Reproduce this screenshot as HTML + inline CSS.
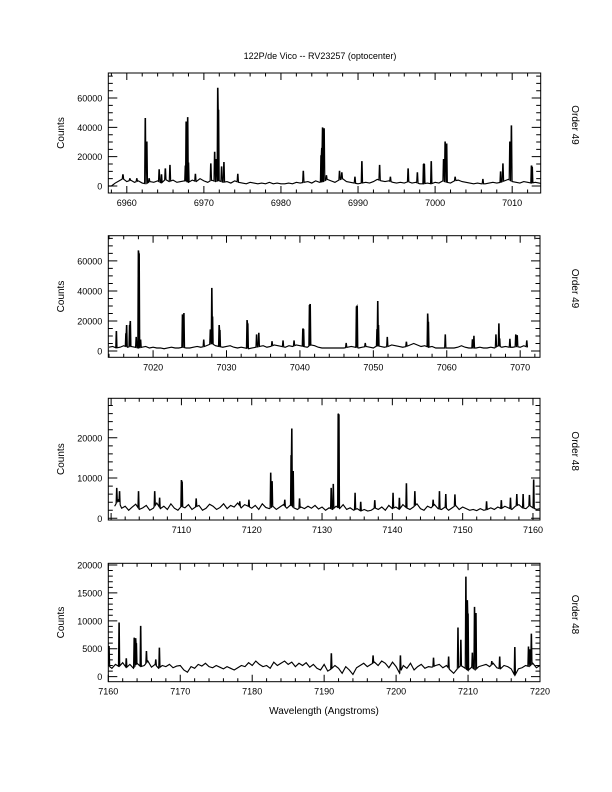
<!DOCTYPE html>
<html><head><meta charset="utf-8">
<style>
html,body{margin:0;padding:0;background:#fff;}
svg{display:block;font-family:"Liberation Sans",sans-serif;}
</style></head>
<body>
<svg id="fig" width="612" height="792" viewBox="0 0 612 792" xmlns="http://www.w3.org/2000/svg">
<text x="320" y="59" font-size="9" text-anchor="middle">122P/de Vico -- RV23257 (optocenter)</text>
<text x="324" y="714" font-size="10" text-anchor="middle">Wavelength (Angstroms)</text>
</svg>
<script>
// ---- data: peaks [wavelength, counts] and baselines (0.5 A steps) ----
const p1Peaks = [[6959.5,8000],[6960.4,5000],[6961.3,5000],[6962.4,46000],[6962.6,30000],[6962.9,5000],[6964.2,11000],[6964.5,8000],[6965.0,12000],[6965.6,14000],[6967.6,14000],[6967.7,44000],[6967.9,47000],[6968.0,16000],[6968.9,8000],[6970.9,15000],[6971.4,23000],[6971.6,18000],[6971.8,67000],[6971.9,52000],[6972.3,13000],[6972.6,16000],[6974.4,8000],[6982.9,10000],[6985.2,21000],[6985.3,26000],[6985.4,40000],[6985.6,39000],[6985.9,7000],[6987.6,10000],[6987.9,9000],[6989.6,6000],[6990.5,17000],[6992.8,14000],[6994.2,6000],[6996.5,12000],[6997.7,9000],[6998.5,15000],[6998.6,15000],[6999.5,17000],[7001.1,18000],[7001.3,30000],[7001.5,29000],[7002.6,6000],[7006.2,4500],[7008.5,10000],[7008.8,15000],[7009.7,30000],[7009.9,41000],[7012.5,14000],[7012.6,13000]];
const p1Start = 6957.5;
const p1Base = [0,0,2000,3500,5000,3000,4000,2500,3500,2000,1500,3000,2500,3500,2000,4500,3000,4000,2500,3000,3500,2500,4000,3000,5000,3500,2500,4000,3000,3500,2500,3000,2000,3500,2500,2000,1500,2500,2000,1500,2000,1500,2500,1500,2000,1500,1500,2000,1500,2500,2000,2500,3000,2000,3500,2500,3000,4500,3500,2500,4000,5000,3000,2500,2000,1500,2000,2500,2000,3000,4500,3500,3000,3500,2500,2000,2500,2000,3000,2000,2500,1500,1500,2000,1500,2500,2000,3500,2500,2000,3500,4000,3000,2500,2000,1500,2000,1500,1500,2000,2500,2000,2500,3500,4500,3000,2500,2000,3000,2500,2000,2500,2000,1500,2000,2500,2000];

const p2Peaks = [[7015.0,13300],[7016.3,11800],[7016.4,17300],[7016.8,17300],[7016.9,20000],[7017.7,9000],[7018.0,67000],[7018.1,65000],[7018.3,7300],[7024.0,24400],[7024.2,24900],[7026.9,7300],[7027.8,14000],[7028.0,42000],[7028.1,23000],[7029.0,17300],[7029.1,14000],[7032.8,20600],[7032.9,18400],[7034.1,10700],[7034.4,11800],[7036.2,6200],[7037.7,6700],[7039.2,6700],[7040.4,15000],[7040.5,14600],[7041.3,30600],[7041.4,31300],[7046.3,5000],[7047.7,29700],[7047.8,30000],[7048.9,5000],[7050.5,14600],[7050.6,33300],[7050.7,17300],[7051.9,9000],[7054.5,6200],[7057.4,25000],[7057.5,19500],[7059.8,10700],[7063.5,7800],[7063.7,9800],[7066.7,10700],[7067.1,18400],[7067.2,8400],[7068.6,7800],[7069.4,10700],[7069.6,10200],[7070.9,6700]];
const p2Start = 7014.0;
const p2Base = [2500,3000,2000,2500,3500,2500,3000,2500,2000,2500,3000,2000,2500,2000,2000,1500,2000,2500,2000,2000,2500,2000,2000,2500,3000,2500,3000,4000,5000,3500,3000,2500,3000,3500,2500,2000,2500,2000,1500,2000,2500,3000,3500,2500,3000,4000,3500,3000,2500,3500,3000,4000,3500,3000,2500,4000,3500,2500,2000,2000,2000,2000,2000,2000,2000,2500,3000,2500,2000,2500,3000,2500,2000,3500,3000,2500,3000,4000,3500,3000,2500,3000,4000,5000,4000,3000,3500,2500,3000,2000,2000,2000,2000,2000,2000,2500,3500,2500,2000,2000,2000,2500,2000,2000,2500,2000,3500,2500,3000,2500,2500,3000,2500,3500,2500,3000,2500,2000];

const p3Peaks = [[7100.8,7400],[7101.2,6600],[7103.9,6600],[7106.2,6600],[7106.9,5000],[7110.0,9500],[7110.1,9100],[7112.1,4800],[7118.3,4100],[7119.6,4500],[7122.7,11200],[7122.9,9100],[7124.7,4500],[7125.6,15700],[7125.7,22300],[7125.9,11600],[7126.8,4800],[7131.3,7400],[7131.6,8400],[7132.3,26000],[7132.4,25800],[7134.7,6200],[7135.5,4100],[7137.5,4500],[7140.1,6200],[7141.0,5100],[7142.0,8700],[7143.2,6600],[7145.8,4500],[7146.7,6600],[7147.6,5900],[7148.9,5800],[7153.4,4100],[7155.5,4500],[7156.8,5000],[7157.7,5900],[7158.6,5900],[7159.5,5800],[7160.1,9500]];
const p3Start = 7100.5;
const p3Base = [3000,4500,2500,3000,2000,2800,3500,2200,2600,3200,2000,2500,3800,2400,3000,2200,3600,2500,2000,3000,2600,3400,2200,2800,3200,2000,2500,3500,3000,2200,2700,3600,2400,3200,2800,3800,2600,3400,3000,2500,3200,2200,3600,2700,2400,3000,2200,2800,3400,2500,3300,2600,2200,2800,2400,3000,2500,3200,2300,2800,2000,2600,2200,3000,2400,3400,2200,2600,2000,2400,1800,2200,1800,2000,2600,2200,2800,2000,3200,2400,2800,2200,3400,2600,2200,2800,3600,2400,2000,3000,2600,3400,2400,2200,2800,2000,2600,3200,2200,2800,2400,2000,2200,1900,2400,2000,2200,2600,2200,2800,2400,3000,2600,2200,3000,3400,2600,2400,3200,2600,2200,2400,2000,2200];

const p4Peaks = [[7160.1,5400],[7161.5,9700],[7162.5,3300],[7163.6,6900],[7163.8,6900],[7163.9,6000],[7164.5,9100],[7165.3,4500],[7166.6,3000],[7167.1,5100],[7191.0,4200],[7196.8,3700],[7200.6,3700],[7205.2,3300],[7207.3,3500],[7208.6,8700],[7209.0,6600],[7209.7,17800],[7209.9,13700],[7210.0,11300],[7210.6,4200],[7210.9,12400],[7211.1,11300],[7213.3,2700],[7214.4,3500],[7216.5,5300],[7218.4,5300],[7218.6,4800],[7218.8,7600]];
const p4Start = 7160.0;
const p4Base = [2000,1500,2200,1800,2500,1600,2200,1500,2400,1800,2000,2800,1700,2200,1500,2000,1800,2200,1600,1900,2000,1200,800,1800,1500,2200,1900,2400,1800,1600,2000,1700,1400,1800,1500,1200,1600,2000,1800,2500,2000,2800,2200,1800,2000,1500,2600,2000,2400,2800,2200,2600,1800,2400,2000,2500,1700,2200,1500,1200,2200,1000,1400,2000,1500,600,1800,1200,400,1600,2000,2400,1800,2200,2600,2000,2800,2400,1600,2600,1800,600,2000,1500,2400,1200,1800,2200,1500,1800,1700,2000,2200,1600,2000,1200,600,1400,2000,1600,1100,1700,1200,1800,2000,2200,1800,2400,1600,1400,2000,1800,1400,200,1400,1600,2000,1800,2400,1600,2000,2200];

// ---- panel configurations ----
const panels = [
 {id:'order-49a', order:'Order 49', peaks:p1Peaks, start:p1Start, base:p1Base, x0:108.3, x1:540.7, yt:73, yb:193, xmin:6957.6, xmax:7013.7, ymin:-4780, ymax:77100, ymaj:20000, ymin_n:4, xlab:[6960,6970,6980,6990,7000,7010], end:7014},
 {id:'order-49b', order:'Order 49', peaks:p2Peaks, start:p2Start, base:p2Base, x0:108.3, x1:540, yt:235.7, yb:357.3, xmin:7013.9, xmax:7072.7, ymin:-4200, ymax:76800, ymaj:20000, ymin_n:4, xlab:[7020,7030,7040,7050,7060,7070], end:7071.3},
 {id:'order-48a', order:'Order 48', peaks:p3Peaks, start:p3Start, base:p3Base, x0:108.3, x1:540, yt:398.3, yb:520, xmin:7099.6, xmax:7161.0, ymin:-420, ymax:29800, ymaj:10000, ymin_n:5, xlab:[7110,7120,7130,7140,7150,7160], end:7161.0},
 {id:'order-48b', order:'Order 48', peaks:p4Peaks, start:p4Start, base:p4Base, x0:108.3, x1:540, yt:563.3, yb:681.7, xmin:7160, xmax:7220, ymin:-900, ymax:20300, ymaj:5000, ymin_n:5, xlab:[7160,7170,7180,7190,7200,7210,7220], end:7220}
];

const NS='http://www.w3.org/2000/svg';
const svg=document.getElementById('fig');
function mk(tag, attrs, parent){const e=document.createElementNS(NS,tag);for(const k in attrs)e.setAttribute(k,attrs[k]);(parent||svg).appendChild(e);return e;}

panels.forEach((P,pi)=>{
  const xs=v=>P.x0+(v-P.xmin)/(P.xmax-P.xmin)*(P.x1-P.x0);
  const ys=v=>P.yb-(v-P.ymin)/(P.ymax-P.ymin)*(P.yb-P.yt);
  const g=mk('g',{});
  
  
  const cp=mk('clipPath',{id:'clip'+pi},g);
  mk('rect',{x:P.x0,y:P.yt,width:P.x1-P.x0,height:P.yb-P.yt},cp);
  const baseAt=w=>{const f=(w-P.start)/0.5;const i=Math.floor(f);const a=P.base[Math.max(0,Math.min(P.base.length-1,i))];const b=P.base[Math.max(0,Math.min(P.base.length-1,i+1))];return a+(b-a)*(f-i);};
  let pts=[];
  P.base.forEach((v,i)=>{const w=P.start+i*0.5;if(w<=P.end)pts.push([w,v]);});
  P.peaks.forEach(([w,h])=>{pts.push([w-0.09,baseAt(w-0.09)]);pts.push([w-0.03,h]);pts.push([w+0.03,h]);pts.push([w+0.09,baseAt(w+0.09)]);});
  pts.sort((a,b)=>a[0]-b[0]);
  const d=pts.map((p,i)=>(i?'L':'M')+xs(p[0]).toFixed(2)+','+ys(p[1]).toFixed(2)).join(' ');
  const line=mk('path',{d:d,fill:'none',stroke:'#000','stroke-width':'1.15','clip-path':'url(#clip'+pi+')'},g);
  
  
  const fr=mk('rect',{x:P.x0,y:P.yt,width:P.x1-P.x0,height:P.yb-P.yt,fill:'none',stroke:'#000','stroke-width':'1'},g);
  
  
  const tk=[];
  for(let w=Math.ceil(P.xmin/2)*2; w<=P.xmax; w+=2){
    const X=xs(w), major=(Math.round(w)%10===0), L=major?7:3.5;
    tk.push('M'+X+','+P.yb+'v'+(-L)+'M'+X+','+P.yt+'v'+L);
  }
  const step=P.ymaj/P.ymin_n;
  for(let v=Math.ceil(P.ymin/step)*step; v<=P.ymax; v+=step){
    const Y=ys(v), major=(Math.round(v)%P.ymaj===0), L=major?9:4.5;
    tk.push('M'+P.x0+','+Y+'h'+L+'M'+P.x1+','+Y+'h'+(-L));
  }
  const tks=mk('path',{d:tk.join(''),stroke:'#000','stroke-width':'1',fill:'none'},g);
  
  
  P.xlab.forEach(w=>{
    const t=mk('text',{x:xs(w),y:P.yb+13,'font-size':'9','text-anchor':'middle'},g);
    t.textContent=w;
    
    
  });
  for(let v=0; v<=P.ymax; v+=P.ymaj){
    const t=mk('text',{x:P.x0-6,y:ys(v)+3.5,'font-size':'9','text-anchor':'end'},g);
    t.textContent=v;
    
    
  }
  const cy=(P.yt+P.yb)/2;
  const yl=mk('text',{x:0,y:0,'font-size':'10','text-anchor':'middle',transform:'translate(64,'+cy+') rotate(-90)'},g);
  yl.textContent='Counts';
  
  
  const ol=mk('text',{x:0,y:0,'font-size':'10','text-anchor':'middle',transform:'translate(572,'+(cy-8)+') rotate(90)'},g);
  ol.textContent=P.order;
  
  
});
</script>
</body></html>
